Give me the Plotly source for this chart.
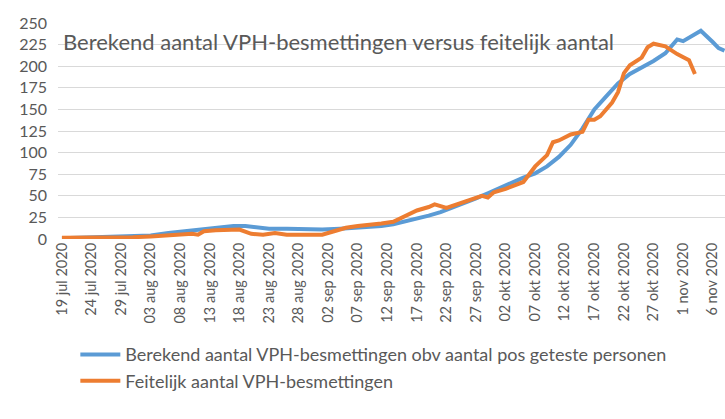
import plotly.graph_objects as go
import pandas as pd

# berekend aantal (blauw)
dates_calc = ['2020-07-19', '2020-07-22', '2020-07-25', '2020-07-28', '2020-07-31',
              '2020-08-03', '2020-08-06', '2020-08-09', '2020-08-12', '2020-08-15',
              '2020-08-17', '2020-08-19', '2020-08-21', '2020-08-23', '2020-08-26',
              '2020-08-29', '2020-09-01', '2020-09-04', '2020-09-07', '2020-09-09',
              '2020-09-11', '2020-09-13', '2020-09-15', '2020-09-17', '2020-09-19',
              '2020-09-21', '2020-09-23', '2020-09-25', '2020-09-27', '2020-09-29',
              '2020-10-01', '2020-10-03', '2020-10-05', '2020-10-07', '2020-10-09',
              '2020-10-11', '2020-10-13', '2020-10-15', '2020-10-17', '2020-10-19',
              '2020-10-21', '2020-10-23', '2020-10-25', '2020-10-27', '2020-10-29',
              '2020-10-31', '2020-11-01', '2020-11-02', '2020-11-04', '2020-11-06',
              '2020-11-07', '2020-11-08']
calc = [1, 1.5, 2, 2, 3,
        4, 7, 9, 11, 13,
        15, 15, 13, 12, 12,
        11, 11, 12, 13, 14,
        15, 17, 20, 23, 27,
        31, 36, 41, 47, 53,
        59, 66, 71, 76, 84,
        95, 109, 128, 150, 165,
        180, 191, 198, 206, 215,
        231, 229, 233, 241, 228,
        221, 218]

# feitelijk aantal (oranje)
dates_real = ['2020-07-19', '2020-07-22', '2020-07-25', '2020-07-28', '2020-07-31',
              '2020-08-03', '2020-08-05', '2020-08-08', '2020-08-10', '2020-08-11',
              '2020-08-12', '2020-08-14', '2020-08-16', '2020-08-18', '2020-08-20',
              '2020-08-22', '2020-08-24', '2020-08-26', '2020-08-28', '2020-08-30',
              '2020-09-01', '2020-09-03', '2020-09-05', '2020-09-07', '2020-09-09',
              '2020-09-11', '2020-09-13', '2020-09-15', '2020-09-17', '2020-09-19',
              '2020-09-20', '2020-09-22', '2020-09-24', '2020-09-26', '2020-09-28',
              '2020-09-29', '2020-09-30', '2020-10-02', '2020-10-04', '2020-10-05',
              '2020-10-07', '2020-10-08', '2020-10-09', '2020-10-10', '2020-10-11',
              '2020-10-13', '2020-10-15', '2020-10-16', '2020-10-17', '2020-10-18',
              '2020-10-20', '2020-10-21', '2020-10-22', '2020-10-23', '2020-10-25',
              '2020-10-26', '2020-10-27', '2020-10-29', '2020-10-31', '2020-11-02',
              '2020-11-03']
real = [1.5, 1.5, 2, 2, 2,
        3, 4, 5, 6, 5,
        9, 10, 10, 11, 6,
        5, 7, 5, 5, 5,
        5, 9, 13, 15, 16,
        18, 20, 27, 33, 37,
        40, 36, 41, 46, 50,
        48, 54, 58, 63, 66,
        84, 90, 97, 112, 114,
        121, 124, 138, 138, 142,
        158, 170, 192, 201, 210,
        222, 226, 223, 214, 207,
        191]

tick_dates = pd.date_range('2020-07-19', '2020-11-06', freq='5D')
tick_text = ['19 jul 2020', '24 jul 2020', '29 jul 2020', '03 aug 2020', '08 aug 2020',
             '13 aug 2020', '18 aug 2020', '23 aug 2020', '28 aug 2020', '02 sep 2020',
             '07 sep 2020', '12 sep 2020', '17 sep 2020', '22 sep 2020', '27 sep 2020',
             '02 okt 2020', '07 okt 2020', '12 okt 2020', '17 okt 2020', '22 okt 2020',
             '27 okt 2020', '1 nov 2020', '6 nov 2020']

grey = '#595959'
font = 'Lato'

fig = go.Figure()
fig.add_trace(go.Scatter(x=dates_calc, y=calc, mode='lines',
                         name='Berekend aantal VPH-besmettingen obv aantal pos geteste personen',
                         line=dict(color='#5B9BD5', width=4)))
fig.add_trace(go.Scatter(x=dates_real, y=real, mode='lines',
                         name='Feitelijk aantal VPH-besmettingen',
                         line=dict(color='#ED7D31', width=4)))

# titel staat in het plotvlak, over de rasterlijn van 225 heen
fig.add_annotation(text='Berekend aantal VPH-besmettingen versus feitelijk aantal',
                   xref='paper', yref='paper', x=0.004, y=0.915,
                   xanchor='left', yanchor='middle', showarrow=False,
                   font=dict(family=font, size=22, color=grey))

fig.update_layout(
    width=725, height=419,
    margin=dict(l=58, r=0, t=23, b=180),
    paper_bgcolor='white', plot_bgcolor='white',
    font=dict(family=font, color=grey),
    showlegend=True,
    legend=dict(orientation='v', x=0.026, y=-0.45, xanchor='left', yanchor='top',
                font=dict(family=font, size=18, color=grey),
                tracegroupgap=2, itemwidth=40),
)
fig.update_xaxes(range=['2020-07-18 08:00', '2020-11-08 02:00'],
                 tickvals=tick_dates, ticktext=tick_text, tickangle=-90,
                 tickfont=dict(family=font, size=14.5, color=grey),
                 showgrid=False, showline=False, zeroline=False, ticks='',
                 automargin=False)
fig.update_yaxes(range=[0, 250], dtick=25, tick0=0,
                 tickfont=dict(family=font, size=16, color=grey),
                 gridcolor='#D9D9D9', gridwidth=1, zeroline=False,
                 ticklabelstandoff=10, automargin=False)

# pagina zonder standaard body-marge, zodat de figuur links boven begint
fig.write_html('out.html', config={'displayModeBar': False},
               post_script="document.body.style.margin='0';")
